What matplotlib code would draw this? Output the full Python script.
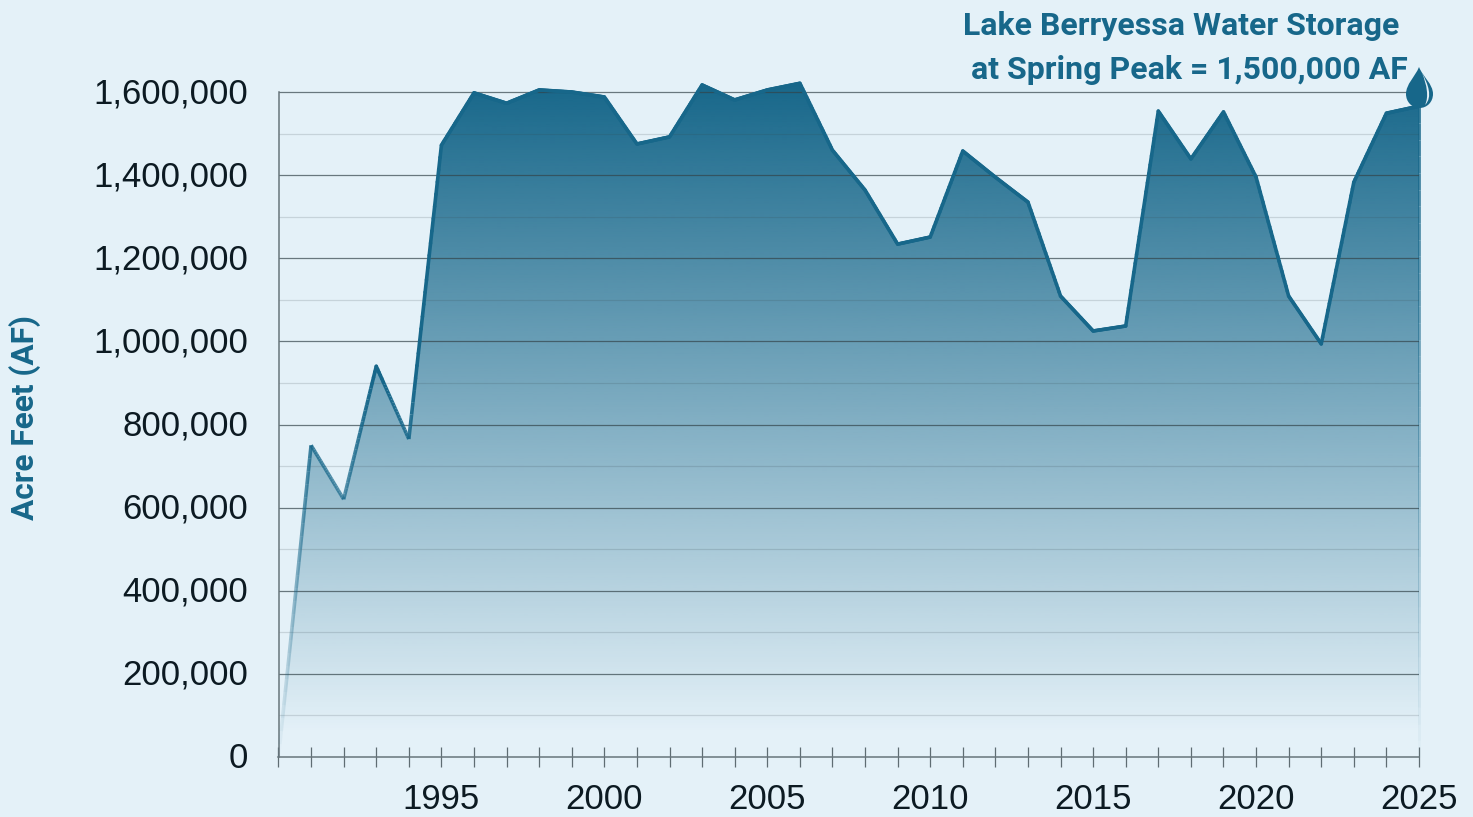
import matplotlib
matplotlib.use("Agg")
import matplotlib.pyplot as plt
import numpy as np
from matplotlib.collections import LineCollection
from matplotlib.patches import PathPatch, Polygon
from matplotlib.path import Path
from matplotlib.transforms import Affine2D, ScaledTranslation

years = list(range(1990, 2026))
storage = [0, 750000, 620000, 940000, 765000, 1472000, 1598000, 1573000, 1605000,
           1600000, 1588000, 1475000, 1492000, 1617000, 1581000, 1605000, 1621000,
           1460000, 1364000, 1234000, 1251000, 1458000, 1395000, 1335000, 1109000,
           1025000, 1037000, 1554000, 1439000, 1552000, 1395000, 1109000, 994000,
           1383000, 1549000, 1566000]
y_major = list(range(0, 1600001, 200000))
y_minor = list(range(100000, 1500001, 200000))
y_labels = [f"{v:,}" for v in y_major]
x_labels = [str(y) if y % 5 == 0 and y > 1990 else "" for y in years]

W, H = 1473, 817
bg = "#e4f1f8"
blue = "#17678a"
ink = "#0c1a22"
top_val = 1640000

plt.rcParams["font.family"] = ["Liberation Sans", "DejaVu Sans"]

fig = plt.figure(figsize=(W / 100, H / 100), dpi=100, facecolor=bg)
ax = fig.add_axes([278.5 / W, (H - 757) / H, (1419 - 278.5) / W,
                   (665 * top_val / 1600000) / H])
ax.set_facecolor(bg)

# fill fades out towards the bottom
fade_low, fade_high = 55000, 1621000
n = 256
rgba = np.zeros((n, 1, 4))
rgba[:, :, :3] = matplotlib.colors.to_rgb(blue)
rgba[:, 0, 3] = np.clip((np.linspace(top_val, 0, n) - fade_low) / (fade_high - fade_low), 0, 1)
im = ax.imshow(rgba, extent=[1990, 2025, 0, top_val], aspect="auto", zorder=1,
               interpolation="bilinear")
outline = list(zip(years, storage)) + [(2025, 0), (1990, 0)]
im.set_clip_path(Polygon(outline, closed=True, transform=ax.transData))
ax.set_xlim(1990, 2025)
ax.set_ylim(0, top_val)

# stroke fades too, split up only to shade it
xs, ys = [], []
for i in range(len(years) - 1):
    xs.extend(np.linspace(years[i], years[i + 1], 24, endpoint=False))
    ys.extend(np.linspace(storage[i], storage[i + 1], 24, endpoint=False))
xs.append(years[-1])
ys.append(storage[-1])
pts = np.column_stack([xs, ys])
segs = np.stack([pts[:-1], pts[1:]], axis=1)
mid = (pts[:-1, 1] + pts[1:, 1]) / 2
seg_cols = np.zeros((len(segs), 4))
seg_cols[:, :3] = matplotlib.colors.to_rgb(blue)
seg_cols[:, 3] = np.clip(mid / 900000, 0, 1)
solid = seg_cols[:, 3] >= 1
ax.add_collection(LineCollection(segs[solid], colors=seg_cols[solid], linewidths=2.6, zorder=3,
                                 capstyle="round", clip_on=False))
ax.add_collection(LineCollection(segs[~solid], colors=seg_cols[~solid], linewidths=2.6, zorder=3,
                                 capstyle="butt", clip_on=False))

# right edge of the area
edge_y = np.linspace(storage[-1], 0, 40)
edge = np.stack([np.column_stack([np.full(39, 2025), edge_y[:-1]]),
                 np.column_stack([np.full(39, 2025), edge_y[1:]])], axis=1)
edge_cols = np.zeros((39, 4))
edge_cols[:, :3] = matplotlib.colors.to_rgb(blue)
edge_cols[:, 3] = np.clip(edge_y[:-1] / 1800000, 0, 1)
ax.add_collection(LineCollection(edge, colors=edge_cols, linewidths=2.0, zorder=1.5,
                                 capstyle="butt", clip_on=False))

ax.hlines(y_major[1:], 1990, 2025.05, colors="#33444a", alpha=0.7, linewidth=0.9, zorder=2)
ax.hlines(y_minor, 1990, 2025.05, colors="#33444a", alpha=0.17, linewidth=0.9, zorder=2)

for s in ["top", "right"]:
    ax.spines[s].set_visible(False)
for s in ["left", "bottom"]:
    ax.spines[s].set_color("#68767c")
    ax.spines[s].set_linewidth(1.1)
    ax.spines[s].set_zorder(2.5)
ax.spines["left"].set_bounds(0, 1600000)

ax.set_xticks(years)
ax.set_xticklabels(x_labels, fontsize=25, color=ink)
ax.tick_params(axis="x", direction="inout", length=15, width=0.9, color="#5f6d73", pad=11.5)
ax.set_yticks(y_major)
ax.set_yticklabels(y_labels, fontsize=25, color=ink)
ax.tick_params(axis="y", length=0, pad=22)
nudge = ScaledTranslation(0, 2 / 100, fig.dpi_scale_trans)
for lab in ax.get_yticklabels():
    lab.set_transform(lab.get_transform() + nudge)

fig.text(25 / W, 1 - 418 / H, "Acre Feet (AF)", rotation=90, family="Roboto", weight="bold",
         fontsize=22.8, color=blue, ha="center", va="center")
fig.text(1181 / W, 1 - 26 / H, "Lake Berryessa Water Storage", family="Roboto", weight="bold",
         fontsize=23, color=blue, ha="center", va="center")
fig.text(1189 / W, 1 - 70 / H, "at Spring Peak = 1,500,000 AF", family="Roboto", weight="bold",
         fontsize=23, color=blue, ha="center", va="center")

# water drop, drawn in picture pixels
to_px = Affine2D().scale(1, -1).translate(0, H)
drop = Path([(1419, 67), (1415, 77), (1406, 84), (1406, 94), (1406, 102), (1412, 108), (1419.5, 108),
             (1427, 108), (1433, 102), (1433, 94), (1433, 84), (1423, 77), (1419, 67), (1419, 67)],
            [Path.MOVETO, Path.CURVE4, Path.CURVE4, Path.CURVE4, Path.CURVE4, Path.CURVE4, Path.CURVE4,
             Path.CURVE4, Path.CURVE4, Path.CURVE4, Path.CURVE4, Path.CURVE4, Path.CURVE4, Path.CLOSEPOLY])
fig.add_artist(PathPatch(drop, transform=to_px, facecolor=blue, edgecolor="none", zorder=5))
shine = Path([(1422, 73), (1428, 84), (1433, 97), (1425, 105), (1429, 97), (1427, 85), (1422, 73), (1422, 73)],
             [Path.MOVETO, Path.CURVE4, Path.CURVE4, Path.CURVE4, Path.CURVE4, Path.CURVE4, Path.CURVE4, Path.CLOSEPOLY])
fig.add_artist(PathPatch(shine, transform=to_px, facecolor=bg, edgecolor="none", zorder=6))

fig.savefig("out.png", dpi=100, facecolor=bg)
